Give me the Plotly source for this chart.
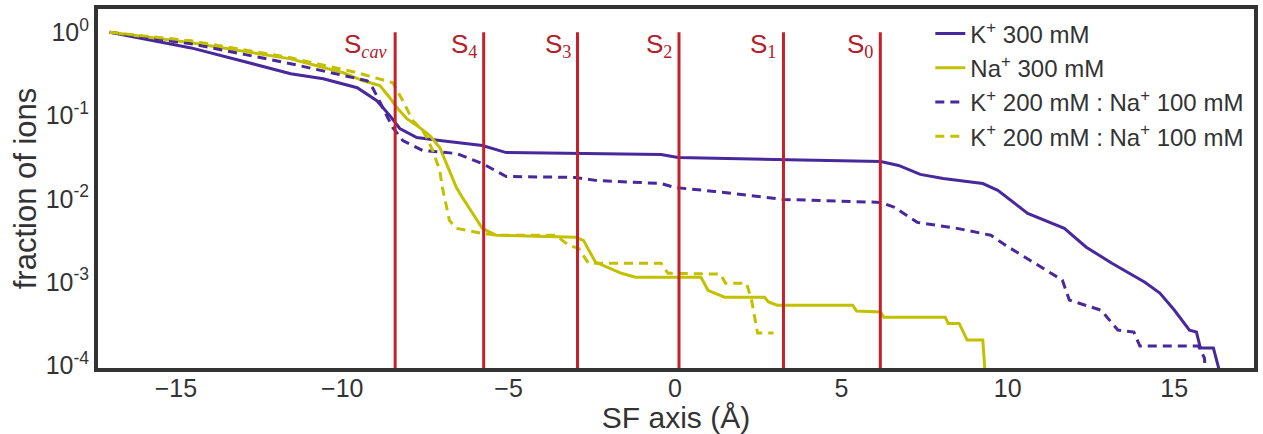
import plotly.graph_objects as go

# ---- data ----
k300_x = [-16.99, -14.54, -13.04, -11.55, -10.57, -9.55, -8.96, -8.57, -8.27, -7.76, -7.07, -5.79, -5.07,
          -2.99, -0.42, 0.09, 1.58, 3.07, 6.18, 6.72, 7.37, 8.06, 9.25, 9.70, 10.60, 11.70, 12.36, 13.13,
          14.12, 14.57, 15.01, 15.46, 15.67, 15.79, 16.18, 16.42]
k300_y = [1.0, 0.65, 0.456, 0.318, 0.277, 0.216, 0.151, 0.100, 0.070, 0.0545, 0.0502, 0.0437, 0.0360,
          0.0351, 0.0341, 0.0314, 0.0305, 0.0297, 0.0281, 0.0252, 0.0197, 0.0176, 0.0153, 0.0127, 0.0067,
          0.00443, 0.00263, 0.00169, 0.00100, 0.00074, 0.00046, 0.000266, 0.000252, 0.000162, 0.000162, 0.00007]

na300_x = [-16.99, -14.54, -11.55, -9.97, -9.37, -8.87, -8.57, -8.36, -8.06, -7.67, -7.37, -7.07, -6.78,
           -6.57, -6.39, -6.09, -5.79, -5.37, -2.99, -2.75, -2.39, -1.61, -1.19, 0.78, 0.99, 1.49, 2.69,
           2.81, 3.07, 5.34, 5.46, 6.18, 6.27, 8.12, 8.21, 8.54, 8.78, 9.25, 9.33]
na300_y = [1.0, 0.75, 0.48, 0.327, 0.262, 0.229, 0.164, 0.125, 0.092, 0.0718, 0.0576, 0.0414, 0.0219,
           0.0137, 0.0104, 0.0067, 0.00443, 0.00366, 0.00346, 0.00318, 0.00174, 0.00128, 0.00115, 0.00115,
           0.00080, 0.00066, 0.00066, 0.00058, 0.00053, 0.00053, 0.00045, 0.00044, 0.00038, 0.00038,
           0.00032, 0.00032, 0.000202, 0.000202, 0.00007]

kmix_x = [-16.99, -14.54, -11.55, -9.25, -9.07, -8.78, -8.48, -8.18, -7.58, -6.57, -5.79, -5.07, -2.99,
          -2.39, -0.42, 0.0, 1.19, 3.25, 6.18, 6.60, 7.28, 8.48, 9.49, 10.03, 11.13, 11.64, 11.85, 12.81,
          13.31, 13.79, 13.97, 15.73, 15.91, 15.95]
kmix_y = [1.0, 0.728, 0.42, 0.262, 0.21, 0.125, 0.0718, 0.0502, 0.0381, 0.0351, 0.0266, 0.0186, 0.0181,
          0.0167, 0.0153, 0.0137, 0.0123, 0.00986, 0.00908, 0.00791, 0.00523, 0.00443, 0.00366, 0.00263,
          0.00139, 0.00106, 0.00061, 0.00046, 0.000266, 0.000252, 0.000171, 0.000171, 0.000123, 0.00007]

namix_x = [-16.99, -14.54, -11.55, -9.55, -8.48, -8.18, -7.88, -7.58, -7.46, -7.28, -7.07, -6.99, -6.78,
           -6.57, -5.79, -5.37, -3.58, -3.19, -2.90, -2.60, -0.42, -0.21, 1.37, 1.52, 2.15, 2.30, 2.48, 2.96]
namix_y = [1.0, 0.79, 0.495, 0.327, 0.248, 0.151, 0.087, 0.066, 0.0545, 0.0381, 0.0219, 0.0137, 0.00553,
           0.00443, 0.00386, 0.00366, 0.00366, 0.00277, 0.00255, 0.00169, 0.00169, 0.00128, 0.00125,
           0.00097, 0.00097, 0.00061, 0.000245, 0.000245]

site_main = ["S", "S", "S", "S", "S", "S"]
site_sub = ["<i>cav</i>", "4", "3", "2", "1", "0"]
site_x = [-8.41, -5.75, -2.93, 0.12, 3.26, 6.17]
site_ymin, site_ymax = 1e-5, 1.0

legend_names = ["K<sup>+</sup> 300 mM", "Na<sup>+</sup> 300 mM",
                "K<sup>+</sup> 200 mM : Na<sup>+</sup> 100 mM", "K<sup>+</sup> 200 mM : Na<sup>+</sup> 100 mM"]

ytick_vals = [1, 0.1, 0.01, 0.001, 0.0001]
ytick_text = ["10<sup>0</sup>", "10<sup>-1</sup>", "10<sup>-2</sup>", "10<sup>-3</sup>", "10<sup>-4</sup>"]

# ---- styles ----
PURPLE = "#47299b"
YELLOW = "#c3c000"
RED = "#c8202a"
TXT = "#333333"
FONT = "Liberation Sans, Arial, sans-serif"

fig = go.Figure()
series = [
    (k300_x, k300_y, legend_names[0], PURPLE, "solid"),
    (na300_x, na300_y, legend_names[1], YELLOW, "solid"),
    (kmix_x, kmix_y, legend_names[2], PURPLE, "9px,6px"),
    (namix_x, namix_y, legend_names[3], YELLOW, "9px,6px"),
]
for xs, ys, name, col, dash in series:
    fig.add_trace(go.Scatter(x=xs, y=ys, mode="lines", name=name,
                             line=dict(color=col, width=3, dash=dash)))

# site lines
lx, ly = [], []
for sx in site_x:
    lx += [sx, sx, None]
    ly += [site_ymin, site_ymax, None]
fig.add_trace(go.Scatter(x=lx, y=ly, mode="lines", showlegend=False, hoverinfo="skip",
                         line=dict(color=RED, width=3)))

for main, sub, sx in zip(site_main, site_sub, site_x):
    label = main + "<sub><span style=\"font-family:'Liberation Serif', serif\">" + sub + "</span></sub>"
    fig.add_annotation(x=sx, y=0.898, xref="x", yref="paper", text=label, showarrow=False,
                       xanchor="right", yanchor="middle", xshift=-5,
                       font=dict(family=FONT, size=26, color="#b3202a"))

W, H = 1263, 434
fig.update_layout(
    width=W, height=H,
    margin=dict(l=98, r=5, t=8, b=66),
    paper_bgcolor="white", plot_bgcolor="white",
    font=dict(family=FONT, color=TXT),
    legend=dict(x=0.72, y=0.993, xanchor="left", yanchor="top",
                bgcolor="rgba(0,0,0,0)", font=dict(size=24, color=TXT),
                tracegroupgap=0),
    showlegend=True,
)
fig.update_xaxes(range=[-17.34, 17.40], dtick=5, tick0=0, showgrid=False, zeroline=False,
                 showline=True, mirror=True, linecolor="#333333", linewidth=4,
                 ticks="", tickfont=dict(size=25, color=TXT), ticklabelstandoff=-5,
                 title=dict(text="SF axis (Å)", font=dict(size=30, color=TXT), standoff=3))
fig.update_yaxes(type="log", range=[-4.03, 0.28], tickvals=ytick_vals, ticktext=ytick_text,
                 showgrid=False, zeroline=False,
                 showline=True, mirror=True, linecolor="#333333", linewidth=4,
                 ticks="", tickfont=dict(size=25, color=TXT),
                 title=dict(text="fraction of ions", font=dict(size=31, color=TXT), standoff=1))

fig.write_html("out.html", config={"displayModeBar": False},
               post_script="document.body.style.margin='0px';document.body.style.overflow='hidden';")
